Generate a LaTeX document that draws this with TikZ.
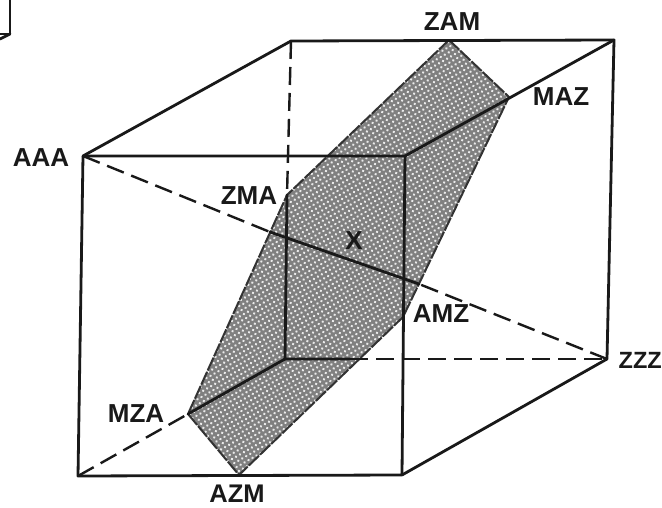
\documentclass[tikz,border=0pt]{standalone}
\usepackage{fontspec}
\setmainfont{Liberation Sans}
\usetikzlibrary{patterns.meta}
\tikzset{
  edge/.style={line width=2.8pt,black!90,line cap=round,line join=round},
  hidden/.style={line width=2.4pt,black!90,dash pattern=on 18pt off 8pt},
  planefill/.style={fill=black!50,draw=none},
  planedots/.style={pattern={Dots[distance=4.6pt,radius=1.35pt,angle=30]},pattern color=white!92!black},
  planeedge/.style={line width=2pt,black!80,dash pattern=on 14pt off 1.5pt},
  lab/.style={font=\bfseries\fontsize{26}{26}\selectfont,black!90,inner sep=0pt,anchor=center}
}
\begin{document}
\begin{tikzpicture}[x=1pt,y=-1pt]
\useasboundingbox (0,0) rectangle (662,508);
\fill[white] (0,0) rectangle (662,508);
% cube corners
\coordinate (ftl) at (83,156);
\coordinate (ftr) at (405,156);
\coordinate (fbl) at (78,476);
\coordinate (fbr) at (402,475);
\coordinate (btl) at (291,41);
\coordinate (btr) at (614,40);
\coordinate (bbl) at (285,359);
\coordinate (bbr) at (607,359);
% plane corners
\coordinate (zam) at (449,40);
\coordinate (maz) at (509,97);
\coordinate (amz) at (403,317);
\coordinate (azm) at (239,475);
\coordinate (mza) at (188,414);
\coordinate (zma) at (287,195);
% transitions
\coordinate (dIn) at (270,232);
\coordinate (dOut) at (419,284);
\coordinate (bOut) at (350,359);
% plane
\path[planefill] (zam)--(maz)--(amz)--(azm)--(mza)--(zma)--cycle;
\path[planedots] (zam)--(maz)--(amz)--(azm)--(mza)--(zma)--cycle;
\draw[planeedge] (zam)--(maz)--(amz)--(azm)--(mza)--(zma)--cycle;
% hidden edges
\draw[hidden] (btl)--(zma);
\draw[hidden] (fbl)--(mza);
\draw[hidden] (bOut)--(bbr);
\draw[hidden] (ftl)--(dIn);
\draw[hidden] (bbr)--(dOut);
% solid inside the plane
\draw[edge] (zma)--(bbl)--(bOut);
\draw[edge] (mza)--(bbl);
\draw[edge] (dIn)--(dOut);
% visible edges
\draw[edge] (ftl)--(ftr)--(fbr)--(fbl)--cycle;
\draw[edge] (ftl)--(btl)--(btr)--(bbr)--(fbr);
\draw[edge] (ftr)--(btr);
% corner fragment
\coordinate (fa) at (10,0);
\coordinate (fb) at (10,34);
\coordinate (fc) at (0,34);
\coordinate (fd) at (0,39);
\draw[edge] (fa)--(fb)--(fc);
\draw[edge] (fb)--(fd);
% labels
\node[lab] (lAAA) at (41,158) {AAA};
\node[lab] (lZAM) at (452,22) {ZAM};
\node[lab] (lMAZ) at (561,97) {MAZ};
\node[lab] (lZMA) at (249,196) {ZMA};
\node[lab] (lX) at (354,241) {X};
\node[lab] (lAMZ) at (441,314) {AMZ};
\node[lab,font=\bfseries\fontsize{23.5}{23.5}\selectfont,anchor=west] (lZZZ) at (618.5,360) {ZZZ};
\node[lab] (lMZA) at (136,414) {MZA};
\node[lab,font=\bfseries\fontsize{25.5}{25.5}\selectfont] (lAZM) at (237,493.5) {AZM};
\end{tikzpicture}
\end{document}
